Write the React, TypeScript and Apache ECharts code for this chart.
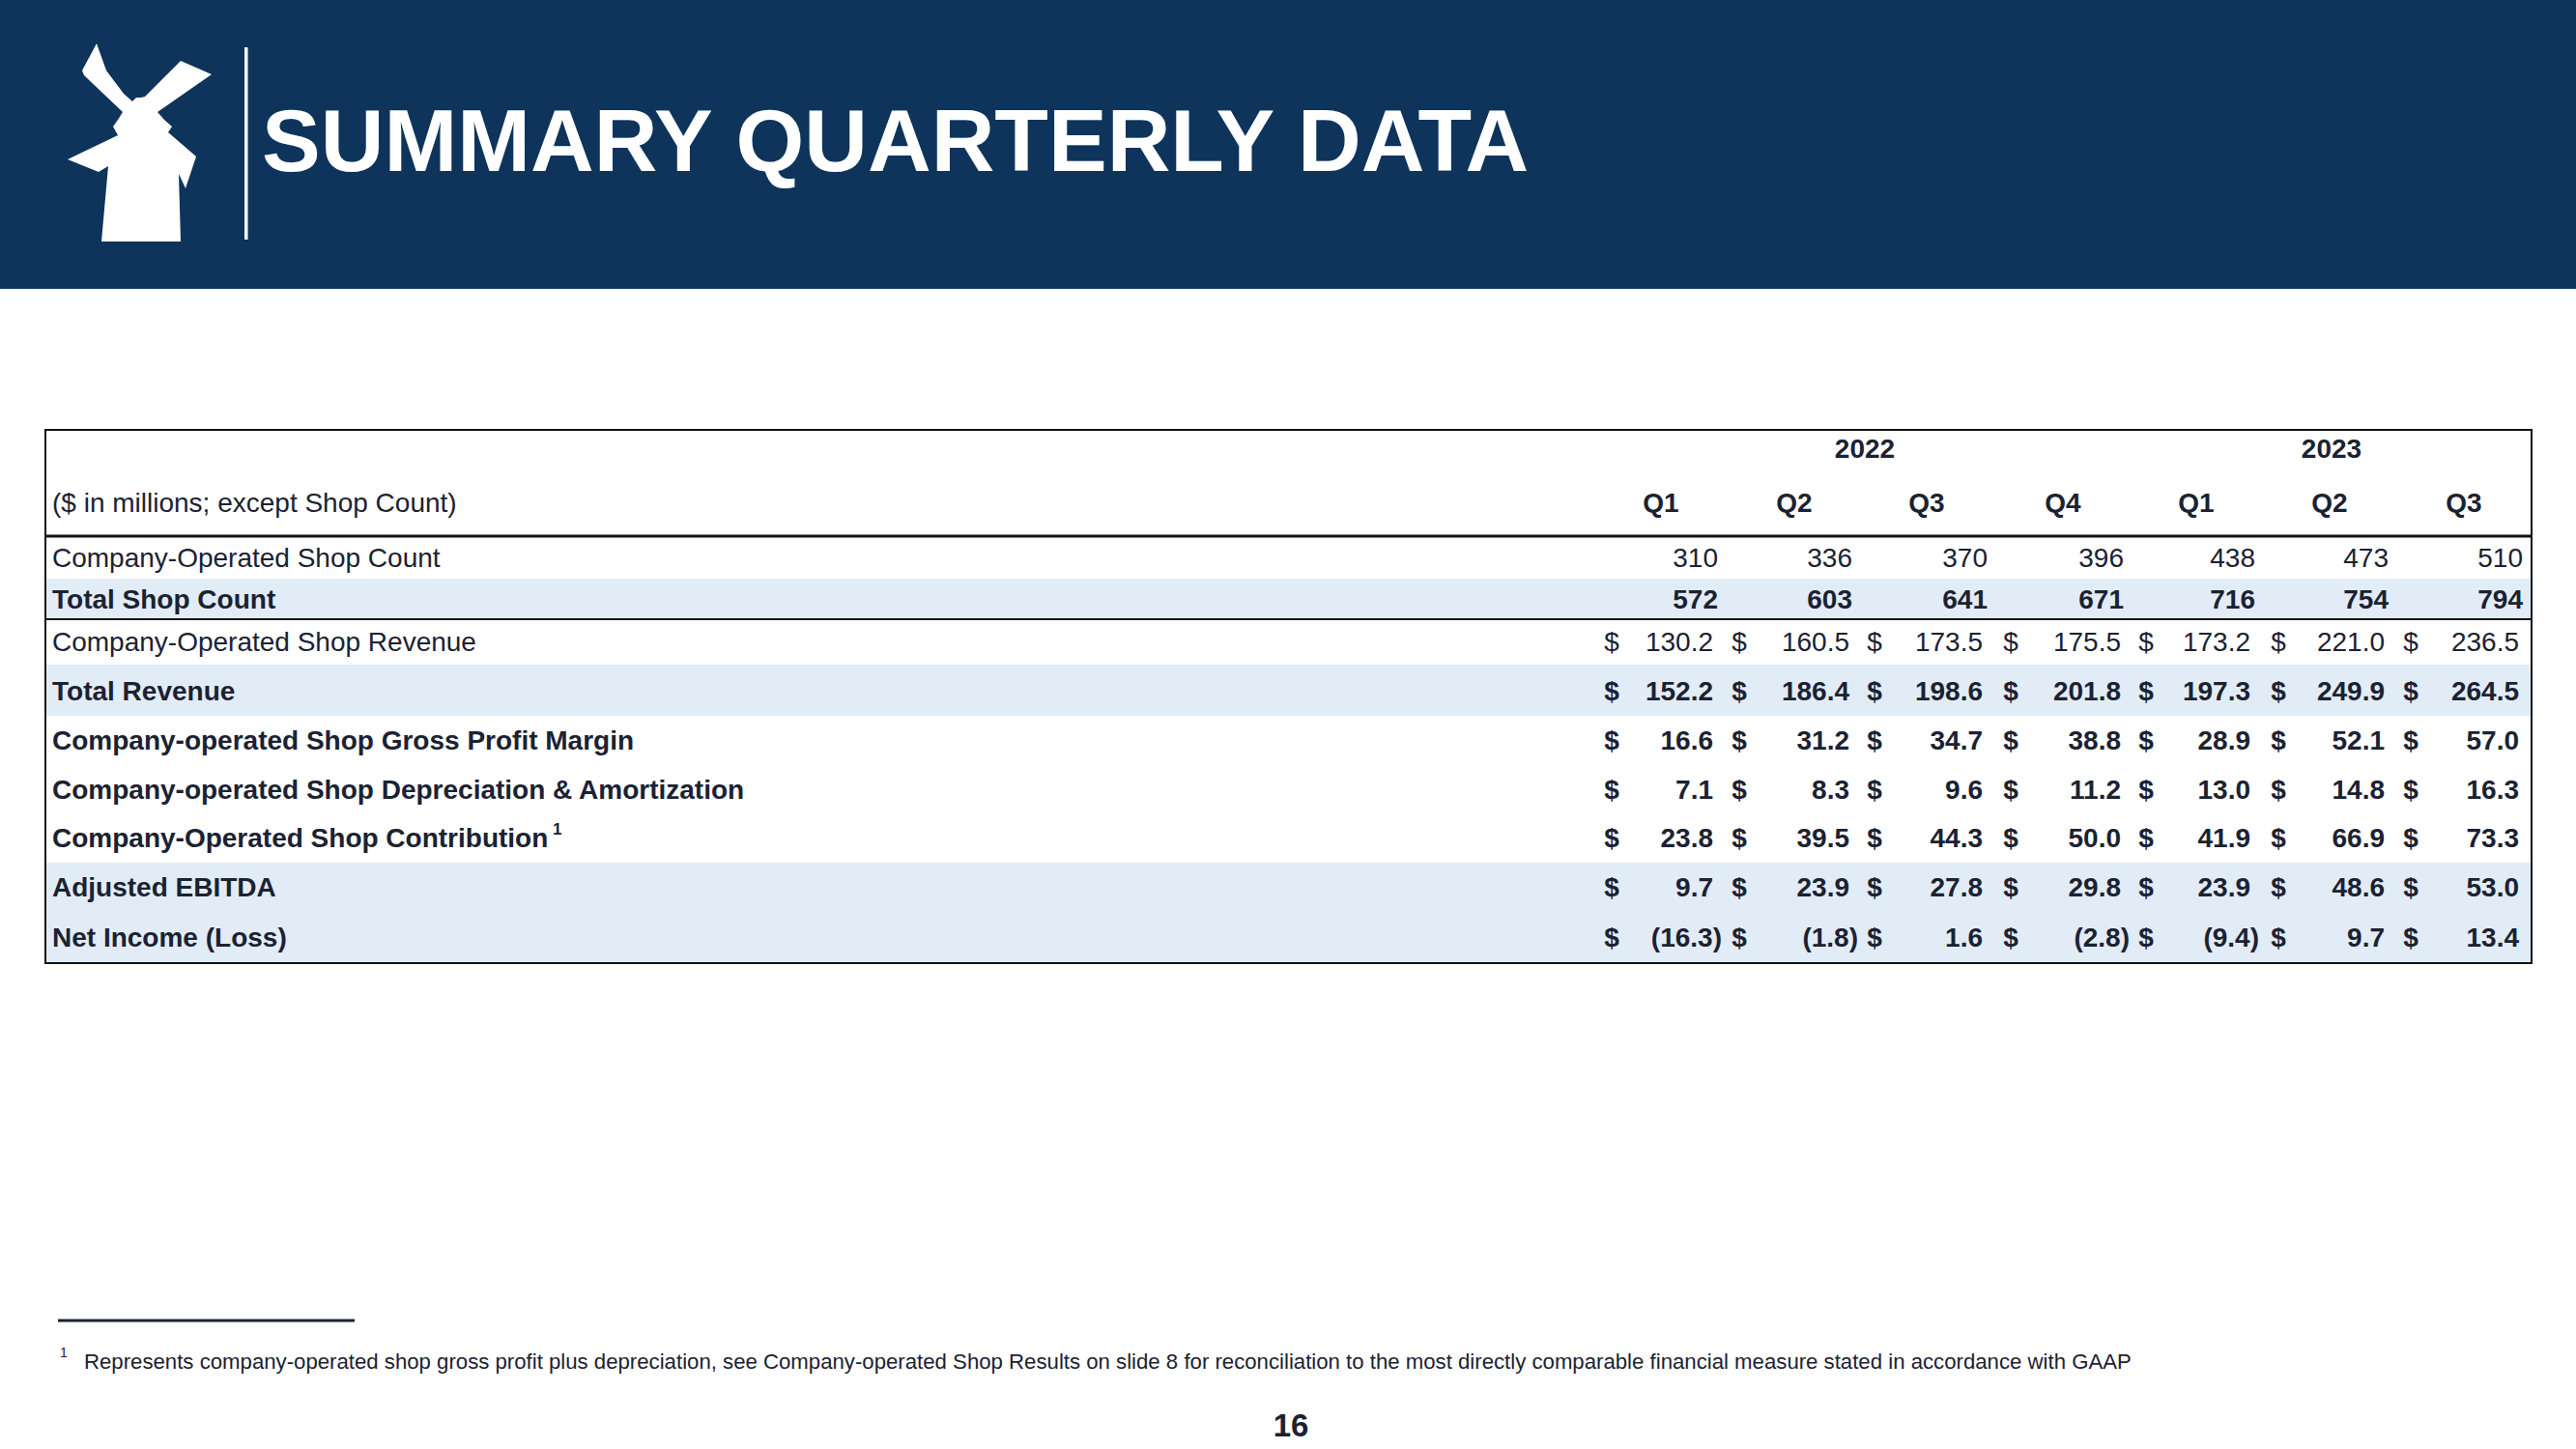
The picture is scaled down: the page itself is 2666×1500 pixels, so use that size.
import React, { useEffect, useRef } from "react";
import * as echarts from "echarts";

// ---------- data ----------
const years = ["2022", "2023"];
const quarters = ["Q1", "Q2", "Q3", "Q4", "Q1", "Q2", "Q3"];
const unitsLabel = "($ in millions; except Shop Count)";
const rowLabels = [
  "Company-Operated Shop Count",
  "Total Shop Count",
  "Company-Operated Shop Revenue",
  "Total Revenue",
  "Company-operated Shop Gross Profit Margin",
  "Company-operated Shop Depreciation & Amortization",
  "Company-Operated Shop Contribution",
  "Adjusted EBITDA",
  "Net Income (Loss)",
];
const companyShopCount = [310, 336, 370, 396, 438, 473, 510];
const totalShopCount = [572, 603, 641, 671, 716, 754, 794];
const companyShopRevenue = [130.2, 160.5, 173.5, 175.5, 173.2, 221.0, 236.5];
const totalRevenue = [152.2, 186.4, 198.6, 201.8, 197.3, 249.9, 264.5];
const grossProfitMargin = [16.6, 31.2, 34.7, 38.8, 28.9, 52.1, 57.0];
const depreciationAmortization = [7.1, 8.3, 9.6, 11.2, 13.0, 14.8, 16.3];
const shopContribution = [23.8, 39.5, 44.3, 50.0, 41.9, 66.9, 73.3];
const adjustedEbitda = [9.7, 23.9, 27.8, 29.8, 23.9, 48.6, 53.0];
const netIncome = [-16.3, -1.8, 1.6, -2.8, -9.4, 9.7, 13.4];
const title = "SUMMARY QUARTERLY DATA";
const footnote =
  "Represents company-operated shop gross profit plus depreciation, see Company-operated Shop Results on slide 8 for reconciliation to the most directly comparable financial measure stated in accordance with GAAP";
const pageNumber = "16";

// ---------- layout / style ----------
const FONT = "'Liberation Sans', Arial, sans-serif";
const NAVY = "#0E345C";
const INK = "#1B2232";
const BAND = "#E2ECF7";

const rowCenters = [577, 620, 664, 715, 766, 817, 867, 918, 970];
const bandRows = [
  [599, 641],
  [688, 741],
  [893, 944],
  [944, 996],
];
const dollarX = [1668, 1800, 1940, 2081, 2221, 2358, 2495];
const valueRight = [1773, 1914, 2052, 2195, 2329, 2468, 2607];
const countRight = [1778, 1917, 2057, 2198, 2334, 2472, 2611];
const quarterX = [1719, 1857, 1994, 2135, 2273, 2411, 2550];
const yearX = [1930, 2413];

type RowSpec = { values: number[]; bold: boolean; labelBold: boolean; money: boolean };
const rows: RowSpec[] = [
  { values: companyShopCount, bold: false, labelBold: false, money: false },
  { values: totalShopCount, bold: true, labelBold: true, money: false },
  { values: companyShopRevenue, bold: false, labelBold: false, money: true },
  { values: totalRevenue, bold: true, labelBold: true, money: true },
  { values: grossProfitMargin, bold: true, labelBold: true, money: true },
  { values: depreciationAmortization, bold: true, labelBold: true, money: true },
  { values: shopContribution, bold: true, labelBold: true, money: true },
  { values: adjustedEbitda, bold: true, labelBold: true, money: true },
  { values: netIncome, bold: true, labelBold: true, money: true },
];

function txt(
  x: number,
  y: number,
  text: string,
  size: number,
  bold: boolean,
  align: string,
  fill: string = INK
) {
  return {
    type: "text",
    x,
    y,
    silent: true,
    style: {
      text,
      fill,
      fontSize: size,
      fontWeight: bold ? "bold" : "normal",
      fontFamily: FONT,
      align,
      textAlign: align,
      verticalAlign: "middle",
      textVerticalAlign: "middle",
    },
  };
}

const logoPoints = [
  [100, 45], [110, 73], [128, 97], [137, 105], [141, 101], [146, 101], [150, 100],
  [187, 63], [219, 77], [163, 116], [170, 124], [178, 131], [174, 137], [203, 162],
  [192, 195], [185, 180], [187, 250], [105, 250], [112, 172], [102, 178], [70, 165],
  [122, 140], [117, 131], [122, 124], [127, 116], [87, 78], [85, 73],
];

export default function App() {
  const ref = useRef<HTMLDivElement>(null);
  useEffect(() => {
    document.body.style.margin = "0";
    if (!ref.current) return;
    const chart = echarts.init(ref.current, null, { renderer: "svg" });
    const els: any[] = [];

    // header band
    els.push({ type: "rect", shape: { x: 0, y: 0, width: 2666, height: 299 }, style: { fill: NAVY }, silent: true });
    els.push({ type: "polygon", shape: { points: logoPoints }, style: { fill: "#FFFFFF" }, silent: true });
    els.push({ type: "rect", shape: { x: 253, y: 49, width: 3.5, height: 199 }, style: { fill: "#FFFFFF" }, silent: true });
    els.push(txt(271, 145, title, 91, true, "left", "#FFFFFF"));

    // bands
    bandRows.forEach(([a, b]) => {
      els.push({ type: "rect", shape: { x: 48, y: a, width: 2572, height: b - a }, style: { fill: BAND }, silent: true });
    });

    // table lines
    els.push({ type: "rect", shape: { x: 47, y: 445, width: 2573, height: 552 }, style: { fill: "none", stroke: "#111111", lineWidth: 2 }, silent: true });
    els.push({ type: "line", shape: { x1: 47, y1: 555, x2: 2620, y2: 555 }, style: { stroke: "#111111", lineWidth: 3 }, silent: true });
    els.push({ type: "line", shape: { x1: 47, y1: 641, x2: 2620, y2: 641 }, style: { stroke: "#111111", lineWidth: 2 }, silent: true });

    // header texts
    years.forEach((yv, i) => els.push(txt(yearX[i], 464, yv, 28, true, "center")));
    quarters.forEach((q, i) => els.push(txt(quarterX[i], 520, q, 28, true, "center")));
    els.push(txt(54, 520, unitsLabel, 28, false, "left"));

    // rows
    rows.forEach((r, ri) => {
      const y = rowCenters[ri];
      els.push(txt(54, y, rowLabels[ri], 28, r.labelBold, "left"));
      r.values.forEach((v, ci) => {
        if (r.money) {
          els.push(txt(dollarX[ci], y, "$", 28, r.bold, "center"));
          const s = v < 0 ? "(" + Math.abs(v).toFixed(1) + ")" : v.toFixed(1);
          els.push(txt(valueRight[ci] + (v < 0 ? 9 : 0), y, s, 28, r.bold, "right"));
        } else {
          els.push(txt(countRight[ci], y, String(v), 28, r.bold, "right"));
        }
      });
    });
    // superscript on contribution row
    els.push(txt(572, 858, "1", 17, true, "left"));

    // footnote
    els.push({ type: "line", shape: { x1: 60, y1: 1367, x2: 367, y2: 1367 }, style: { stroke: "#1B2232", lineWidth: 3 }, silent: true });
    els.push(txt(62, 1400, "1", 14, false, "left"));
    els.push(txt(87, 1409, footnote, 22.2, false, "left"));
    els.push(txt(1336, 1475, pageNumber, 33, true, "center"));

    chart.setOption({
      animation: false,
      backgroundColor: "#FFFFFF",
      graphic: { elements: els },
    });
    return () => chart.dispose();
  }, []);
  return <div ref={ref} style={{ width: 2666, height: 1500 }} />;
}
